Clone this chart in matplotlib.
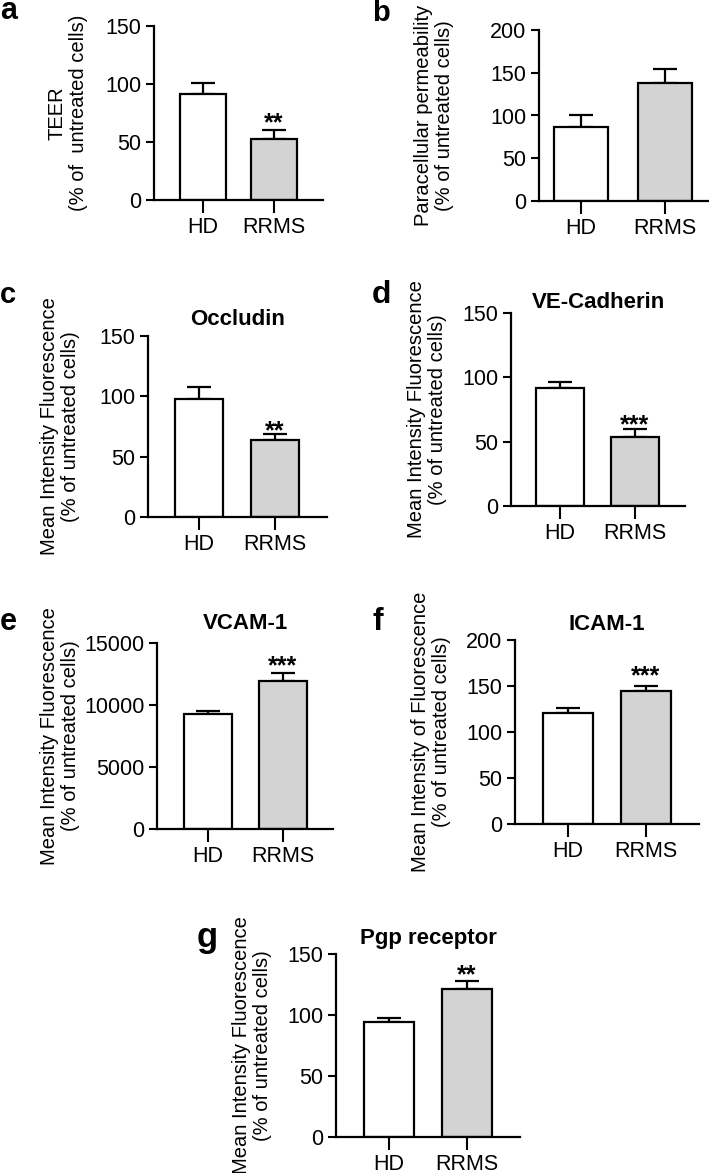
import matplotlib
matplotlib.use("Agg")
import matplotlib.pyplot as plt

plt.rcParams['font.family'] = ['Liberation Sans', 'DejaVu Sans']

groups = ["HD", "RRMS"]
bar_colors = ["white", "#d3d3d3"]

# values (mean, upper error)
teer = [91, 53]
teer_err = [10, 7]
perm = [87, 138]
perm_err = [14, 16]
occludin = [98, 64]
occludin_err = [10, 4.5]
vecad = [92, 54]
vecad_err = [4, 5.5]
vcam = [9300, 11950]
vcam_err = [200, 620]
icam = [121, 145]
icam_err = [5, 5]
pgp = [94, 121]
pgp_err = [3.5, 7]

W, H = 709, 1173
fig = plt.figure(figsize=(W / 100, H / 100), dpi=100)


def panel(px, vals, errs, ymax, step, ylabel, label_right, title=None, title_pad=8,
          stars=None, star_off=-1, letter=None, letter_xy=None, letter_size=22):
    left, right, top, bottom, tick0, tick1 = px
    ax = fig.add_axes([left / W, 1 - bottom / H, (right - left) / W, (bottom - top) / H])
    scale = tick1 - tick0
    xl = -(tick0 - left) / scale
    xr = 1 + (right - tick1) / scale
    ax.bar([0, 1], vals, width=0.64, color=bar_colors, edgecolor="black", linewidth=1.6, zorder=2)
    ax.errorbar([0, 1], vals, yerr=[[0, 0], errs], fmt="none", ecolor="black",
                elinewidth=1.6, capsize=8.5, capthick=1.6, zorder=1)
    ax.set_xlim(xl, xr)
    ax.set_ylim(0, ymax)
    ax.set_yticks(range(0, ymax + 1, step))
    ax.set_xticks([0, 1])
    ax.set_xticklabels(groups)
    for s in ["top", "right"]:
        ax.spines[s].set_visible(False)
    for s in ["left", "bottom"]:
        ax.spines[s].set_linewidth(1.6)
    ax.tick_params(axis="y", length=6, width=1.5, labelsize=15.5, pad=3)
    ax.tick_params(axis="x", length=9, width=1.5, labelsize=15.5, pad=3)
    ax.set_ylabel(ylabel, fontsize=14.5, linespacing=1.15)
    ax.yaxis.set_label_coords((label_right - left) / (right - left), 0.5)
    if title:
        ax.set_title(title, fontsize=16, fontweight="bold", pad=title_pad)
    if stars:
        ax.annotate(stars, (1, vals[1] + errs[1]), xytext=(0, star_off), textcoords="offset points",
                    ha="center", va="baseline", fontsize=18, fontweight="bold")
    if letter:
        fig.text(letter_xy[0] / W, 1 - letter_xy[1] / H, letter, fontsize=letter_size,
                 fontweight="bold", ha="left", va="baseline")
    return ax


panel((154, 323, 26, 200, 203, 274), teer, teer_err, 150, 50,
      "TEER\n(% of  untreated cells)", 88, stars="**", star_off=0,
      letter="a", letter_xy=(0, 19), letter_size=22)
panel((539, 712, 30, 201, 581, 665), perm, perm_err, 200, 50,
      "Paracellular permeability\n(% of untreated cells)", 454,
      letter="b", letter_xy=(372, 21), letter_size=21)
panel((148, 327, 336, 517, 199, 275), occludin, occludin_err, 150, 50,
      "Mean Intensity Fluorescence\n(% of untreated cells)", 80, title="Occludin", title_pad=8,
      stars="**", star_off=-3, letter="c", letter_xy=(0, 303), letter_size=21)
panel((511, 685, 313, 506, 560, 635), vecad, vecad_err, 150, 50,
      "Mean Intensity Fluorescence\n(% of untreated cells)", 447, title="VE-Cadherin", title_pad=1.5,
      stars="***", star_off=-2, letter="d", letter_xy=(372, 303), letter_size=23)
panel((157, 333, 643, 829, 208, 283), vcam, vcam_err, 15000, 5000,
      "Mean Intensity Fluorescence\n(% of untreated cells)", 80, title="VCAM-1", title_pad=10,
      stars="***", star_off=0, letter="e", letter_xy=(0, 630), letter_size=22)
panel((515, 699, 640, 824, 568, 646), icam, icam_err, 200, 50,
      "Mean Intensity of Fluorescence\n(% of untreated cells)", 451, title="ICAM-1", title_pad=7.5,
      stars="***", star_off=2, letter="f", letter_xy=(373, 630), letter_size=23)
panel((336, 520, 954, 1137, 389, 467), pgp, pgp_err, 150, 50,
      "Mean Intensity Fluorescence\n(% of untreated cells)", 272, title="Pgp receptor", title_pad=7.5,
      stars="**", star_off=-1, letter="g", letter_xy=(197, 947), letter_size=25)

fig.savefig("out.png", dpi=100)
